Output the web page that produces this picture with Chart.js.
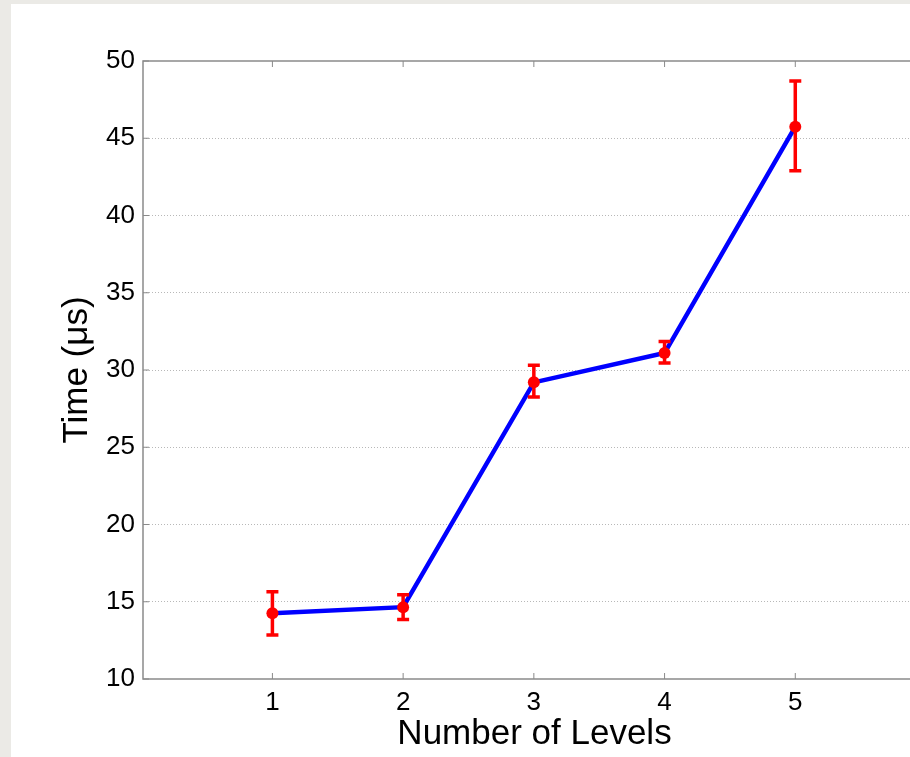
<!DOCTYPE html>
<html>
<head>
<meta charset="utf-8">
<script src="https://cdn.jsdelivr.net/npm/chart.js@4.4.0/dist/chart.umd.min.js"></script>
<style>
  html, body { margin: 0; padding: 0; background: #ebeae6; overflow: hidden; width: 910px; height: 757px; }
  #wrap { position: absolute; left: 11px; top: 4px; background: #fff; }
</style>
</head>
<body>
<div id="wrap"><canvas id="linechart" width="960" height="753"></canvas></div>
<script>
// data
const levels = [1, 2, 3, 4, 5];
const timeMean = [14.25, 14.65, 29.2, 31.1, 45.75];
const timeLow = [12.85, 13.85, 28.25, 30.45, 42.9];
const timeHigh = [15.65, 15.45, 30.3, 31.85, 48.7];
const xTicks = [1, 2, 3, 4, 5];
const yTicks = [10, 15, 20, 25, 30, 35, 40, 45, 50];

const FONT = '"Liberation Sans", Arial, Helvetica, sans-serif';
const AXIS = '#8a8a8a';

// box, inward ticks and error bars
const extras = {
  id: 'extras',
  beforeDatasetsDraw(chart) {
    const {ctx, chartArea: a, scales: {x, y}} = chart;
    ctx.save();
    ctx.strokeStyle = AXIS;
    ctx.lineWidth = 1.5;
    ctx.beginPath();
    ctx.moveTo(a.right + 20, a.top); ctx.lineTo(a.left, a.top);
    ctx.lineTo(a.left, a.bottom); ctx.lineTo(a.right + 20, a.bottom);
    ctx.stroke();
    ctx.lineWidth = 1;
    ctx.beginPath();
    xTicks.forEach(v => {
      const px = x.getPixelForValue(v);
      ctx.moveTo(px, a.bottom); ctx.lineTo(px, a.bottom - 6);
      ctx.moveTo(px, a.top); ctx.lineTo(px, a.top + 6);
    });
    yTicks.forEach(v => {
      const py = y.getPixelForValue(v);
      ctx.moveTo(a.left, py); ctx.lineTo(a.left + 6, py);
    });
    ctx.stroke();
    ctx.restore();
  },
  afterDatasetsDraw(chart) {
    const {ctx, scales: {x, y}} = chart;
    ctx.save();
    ctx.strokeStyle = '#ff0000';
    ctx.lineWidth = 3.5;
    ctx.beginPath();
    levels.forEach((v, i) => {
      const px = x.getPixelForValue(v);
      const lo = y.getPixelForValue(timeLow[i]);
      const hi = y.getPixelForValue(timeHigh[i]);
      ctx.moveTo(px, lo); ctx.lineTo(px, hi);
      ctx.moveTo(px - 6, lo); ctx.lineTo(px + 6, lo);
      ctx.moveTo(px - 6, hi); ctx.lineTo(px + 6, hi);
    });
    ctx.stroke();
    ctx.restore();
  }
};

const ctx = document.getElementById('linechart');
new Chart(ctx, {
  type: 'line',
  data: {
    datasets: [{
      data: levels.map((v, i) => ({x: v, y: timeMean[i]})),
      borderColor: '#0000ff',
      borderWidth: 4.5,
      pointRadius: 6,
      pointBackgroundColor: '#ff0000',
      pointBorderWidth: 0,
      tension: 0
    }]
  },
  options: {
    responsive: false,
    animation: false,
    layout: { padding: { top: 57, right: 45, left: 0, bottom: 0 } },
    plugins: { legend: { display: false }, tooltip: { enabled: false } },
    scales: {
      x: {
        type: 'linear',
        min: 0.01, max: 6,
        afterBuildTicks: s => { s.ticks = xTicks.map(v => ({value: v})); },
        afterFit: s => { s.height = 78; },
        grid: { display: false, drawTicks: false },
        border: { display: false },
        ticks: { color: '#000', padding: 8, font: { family: FONT, size: 26 } },
        title: {
          display: true, text: 'Number of Levels', color: '#000',
          font: { family: FONT, size: 35 }, padding: { top: 0, bottom: 2 }
        }
      },
      y: {
        min: 10, max: 50,
        afterBuildTicks: s => { s.ticks = yTicks.map(v => ({value: v})); },
        afterFit: s => { s.width = 132; },
        grid: {
          drawTicks: false,
          lineWidth: 1,
          color: c => (c.tick.value === 10 || c.tick.value === 50) ? 'rgba(0,0,0,0)' : '#b8b8b8'
        },
        border: { display: false, dash: [1, 2] },
        ticks: { color: '#000', padding: 8, font: { family: FONT, size: 26 } },
        title: {
          display: true, text: 'Time (μs)', color: '#000',
          font: { family: FONT, size: 35 }, padding: { top: 45, bottom: 0 }
        }
      }
    }
  },
  plugins: [extras]
});
</script>
</body>
</html>
